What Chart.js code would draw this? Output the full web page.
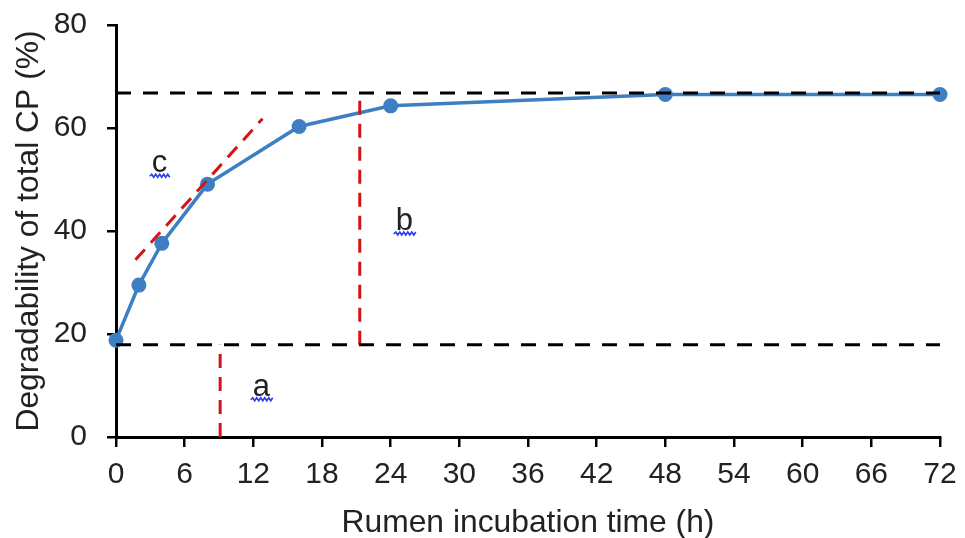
<!DOCTYPE html>
<html>
<head>
<meta charset="utf-8">
<script src="https://cdn.jsdelivr.net/npm/chart.js@4.4.1/dist/chart.umd.min.js"></script>
<style>
  html, body { margin: 0; padding: 0; background: #fff; }
  #wrap { width: 965px; height: 538px; }
</style>
</head>
<body>
<div id="wrap"><canvas id="chart" width="965" height="538"></canvas></div>
<script>
// measured degradability (%) at each incubation time (h)
const hours = [0, 2, 4, 8, 16, 24, 48, 72];
const degradability = [18.8, 29.5, 37.6, 49.1, 60.3, 64.3, 66.5, 66.5];

// guide lines
const lowerGuide = [{ x: 0, y: 17.9 }, { x: 72, y: 17.9 }];
const upperGuide = [{ x: 0, y: 66.8 }, { x: 72, y: 66.8 }];
const aLine = [{ x: 9.1, y: 0 }, { x: 9.1, y: 17.9 }];
const bLine = [{ x: 21.3, y: 17.9 }, { x: 21.3, y: 66.8 }];
const cSlope = [{ x: 1.7, y: 34.4 }, { x: 12.8, y: 61.8 }];

const xTicks = [0, 6, 12, 18, 24, 30, 36, 42, 48, 54, 60, 66, 72];
const annotations = [
  { text: "a", x: 12.7, y: 8.0 },
  { text: "b", x: 25.2, y: 40.2 },
  { text: "c", x: 3.8, y: 51.4 }
];

const fontFamily = "'Liberation Sans', Arial, sans-serif";
const tickSize = 30;
const titleSize = 31.8;
const blue = "#3d7fc2";
const red = "#d21414";

// draws the a / b / c letters with their squiggly underline
const letterPlugin = {
  id: "letters",
  afterDatasetsDraw(chart) {
    const { ctx, scales } = chart;
    ctx.save();
    ctx.font = "31px " + fontFamily;
    ctx.textAlign = "center";
    ctx.textBaseline = "alphabetic";
    annotations.forEach(a => {
      const px = scales.x.getPixelForValue(a.x);
      const py = scales.y.getPixelForValue(a.y);
      ctx.fillStyle = "#222";
      ctx.fillText(a.text, px, py);
      const w = ctx.measureText(a.text).width + 4;
      let sx = px - w / 2;
      const sy = py + 4;
      ctx.strokeStyle = "#2a3cf0";
      ctx.lineWidth = 1.6;
      ctx.beginPath();
      ctx.moveTo(sx, sy);
      let up = true;
      while (sx < px + w / 2) {
        ctx.lineTo(sx + 2, up ? sy - 2 : sy + 1);
        sx += 2;
        up = !up;
      }
      ctx.stroke();
    });
    ctx.restore();
  }
};

function guide(data, color, dash) {
  return {
    data: data,
    borderColor: color,
    borderWidth: 3,
    borderDash: dash,
    pointRadius: 0,
    fill: false,
    clip: false,
    tension: 0
  };
}

new Chart(document.getElementById("chart").getContext("2d"), {
  type: "line",
  data: {
    datasets: [
      guide(upperGuide, "#000", [15, 12]),
      guide(lowerGuide, "#000", [15, 12]),
      guide(aLine, red, [14, 9]),
      guide(bLine, red, [14, 9]),
      guide(cSlope, red, [14, 9]),
      {
        data: hours.map((h, i) => ({ x: h, y: degradability[i] })),
        borderColor: blue,
        backgroundColor: blue,
        borderWidth: 3.5,
        pointRadius: 7.5,
        pointBorderWidth: 0,
        fill: false,
        clip: false,
        tension: 0
      }
    ]
  },
  options: {
    responsive: false,
    animation: false,
    layout: { padding: { top: 25, right: 25, left: 0, bottom: 0 } },
    plugins: {
      legend: { display: false },
      tooltip: { enabled: false }
    },
    scales: {
      x: {
        type: "linear",
        min: 0,
        max: 72,
        afterBuildTicks: axis => { axis.ticks = xTicks.map(v => ({ value: v })); },
        afterFit: axis => {
          axis.height = 101;
          axis.paddingLeft = 0;
          axis.paddingRight = 0;
        },
        grid: { drawOnChartArea: false, drawTicks: true, tickLength: 10, color: "#000", lineWidth: 2.5 },
        border: { color: "#000", width: 3 },
        ticks: { color: "#222", font: { size: tickSize, family: fontFamily }, padding: 10, maxRotation: 0 },
        title: {
          display: true,
          text: "Rumen incubation time (h)",
          color: "#222",
          font: { size: titleSize, family: fontFamily, lineHeight: 0.9 },
          padding: { top: 4, bottom: 0 }
        }
      },
      y: {
        min: 0,
        max: 80,
        afterFit: axis => {
          axis.width = 116;
          axis.paddingTop = 0;
          axis.paddingBottom = 0;
        },
        grid: { drawOnChartArea: false, drawTicks: true, tickLength: 9, color: "#000", lineWidth: 2.5 },
        border: { color: "#000", width: 3 },
        ticks: { stepSize: 20, color: "#222", font: { size: tickSize, family: fontFamily }, padding: 20 },
        title: {
          display: true,
          text: "Degradability of total CP (%)",
          color: "#222",
          font: { size: titleSize, family: fontFamily },
          padding: { top: 10, bottom: 0 }
        }
      }
    }
  },
  plugins: [letterPlugin]
});
</script>
</body>
</html>
